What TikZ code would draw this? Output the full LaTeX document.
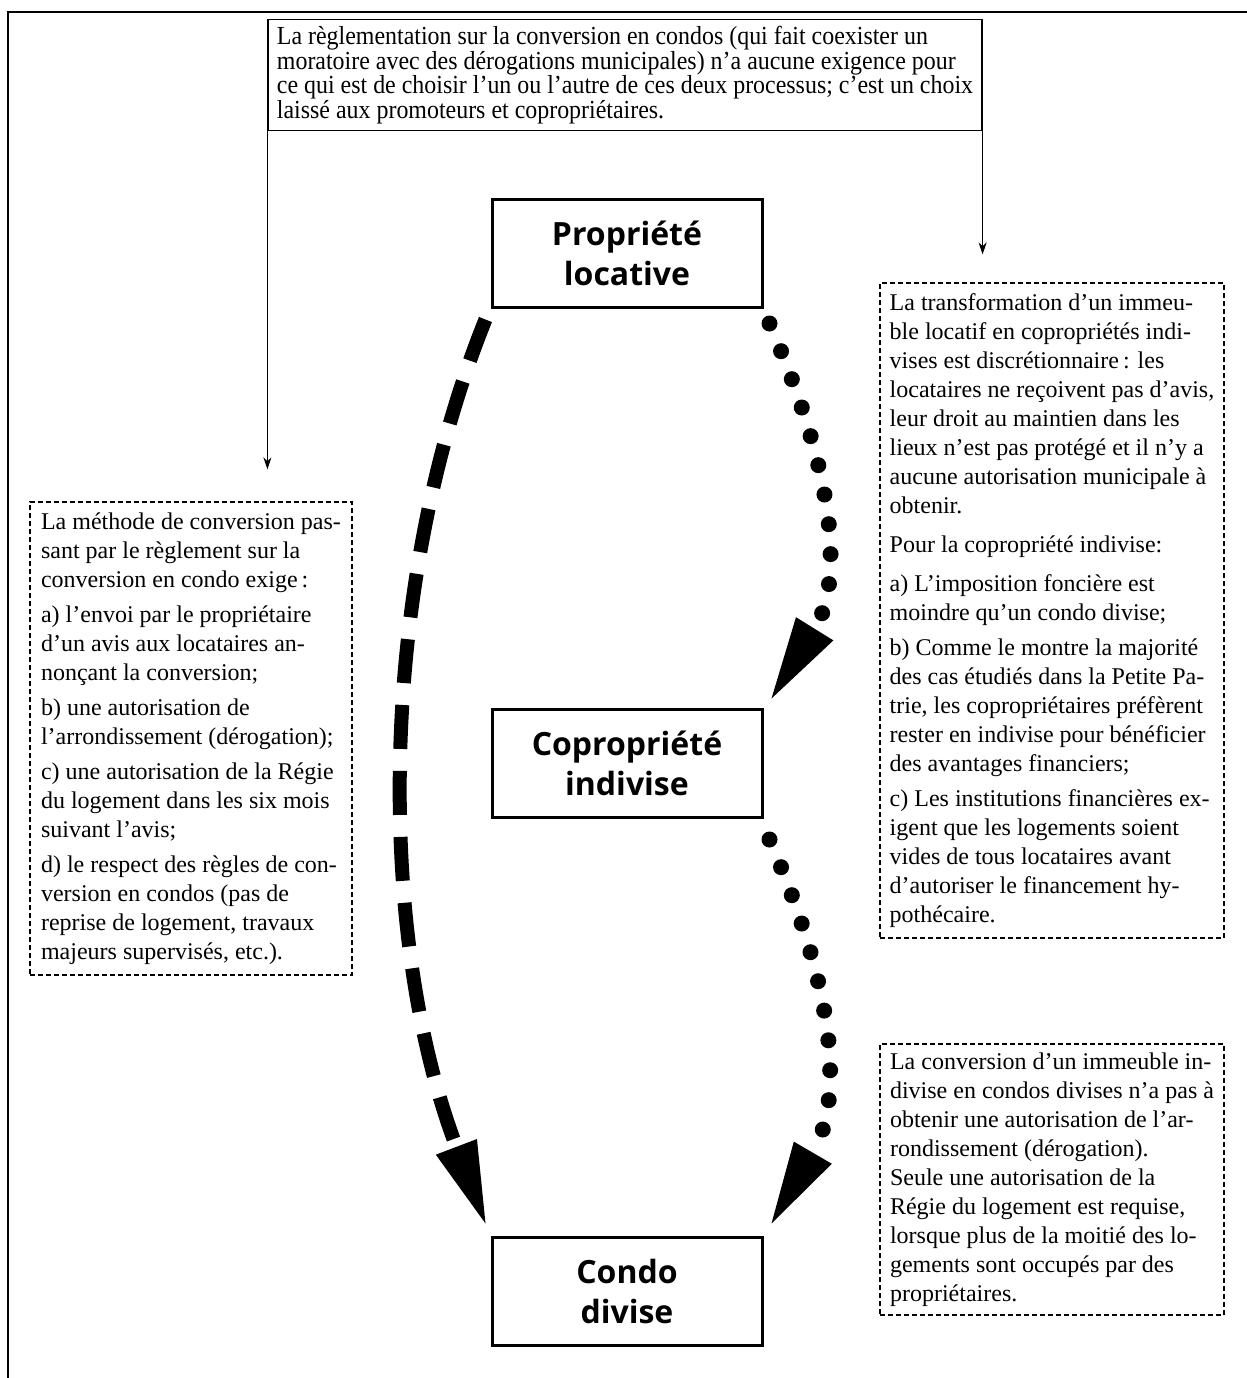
\documentclass[tikz,border=0pt]{standalone}
\usepackage{fontspec}
\setmainfont{Liberation Serif}
\newfontfamily\headfont{Open Sans}
\newfontfamily\narrowfont[FakeStretch=0.92]{Liberation Serif}
\usetikzlibrary{arrows.meta,calc}

\begin{document}
\begin{tikzpicture}[
  x=0.5pt,y=-0.5pt,
  stage/.style={draw,line width=1.5pt,minimum width=135pt,minimum height=54pt,align=center,
    font=\headfont\bfseries\fontsize{16}{20}\selectfont},
  note/.style={draw,line width=0.6pt,dash pattern=on 2.5pt off 1.5pt,align=left,inner xsep=3pt,
    font=\fontsize{12}{14.5}\selectfont},
  rulebox/.style={draw,line width=0.6pt,align=left,inner xsep=3pt,minimum width=357pt,minimum height=55pt,
    font=\narrowfont\fontsize{13}{12.25}\selectfont},
  pointer/.style={-{Stealth[length=6pt,width=4pt]},line width=0.5pt},
  bigtip/.style={-{Triangle[length=41pt,width=22pt,line width=0pt]}},
  strokes/.style={bigtip,line width=7pt,dash pattern=on 22pt off 11pt},
  dotpath/.style={bigtip,line width=8pt,line cap=round,dash pattern=on 0pt off 15pt}
]
\useasboundingbox (0,0) rectangle (1247,1378);
% frame
\draw[line width=1.2pt] (8,1378) -- (8,12) -- (1247,12);

% top text
\node[rulebox] (rule) at (625,75) {La règlementation sur la conversion en condos (qui fait coexister un\\
moratoire avec des dérogations municipales) n’a aucune exigence pour\\
ce qui est de choisir l’un ou l’autre de ces deux processus; c’est un choix\\
laissé aux promoteurs et copropriétaires.};

% stages
\node[stage] (prop) at (627,253) {Propriété\\locative};
\node[stage] (copro) at (627,763) {Copropriété\\indivise};
\node[stage] (condo) at (627,1291) {Condo\\divise};

% notes
\node[note,minimum width=161pt,minimum height=236.5pt] (methode) at (191,738.5) {La méthode de conversion pas-\\
sant par le règlement sur la\\
conversion en condo exige\,:\\[3pt]
a) l’envoi par le propriétaire\\
d’un avis aux locataires an-\\
nonçant la conversion;\\[3pt]
b) une autorisation de\\
l’arrondissement (dérogation);\\[3pt]
c) une autorisation de la Régie\\
du logement dans les six mois\\
suivant l’avis;\\[3pt]
d) le respect des règles de con-\\
version en condos (pas de\\
reprise de logement, travaux\\
majeurs supervisés, etc.).};

\node[note,minimum width=172pt,minimum height=327.5pt] (indivise) at (1052,610.5) {La transformation d’un immeu-\\
ble locatif en copropriétés indi-\\
vises est discrétionnaire\,: les\\
locataires ne reçoivent pas d’avis,\\
leur droit au maintien dans les\\
lieux n’est pas protégé et il n’y a\\
aucune autorisation municipale à\\
obtenir.\\[5pt]
Pour la copropriété indivise:\\[5pt]
a) L’imposition foncière est\\
moindre qu’un condo divise;\\[3pt]
b) Comme le montre la majorité\\
des cas étudiés dans la Petite Pa-\\
trie, les copropriétaires préfèrent\\
rester en indivise pour bénéficier\\
des avantages financiers;\\[3pt]
c) Les institutions financières ex-\\
igent que les logements soient\\
vides de tous locataires avant\\
d’autoriser le financement hy-\\
pothécaire.};

\node[note,minimum width=172pt,minimum height=135.5pt] (divise) at (1052,1179.5) {La conversion d’un immeuble in-\\
divise en condos divises n’a pas à\\
obtenir une autorisation de l’ar-\\
rondissement (dérogation).\\
Seule une autorisation de la\\
Régie du logement est requise,\\
lorsque plus de la moitié des lo-\\
gements sont occupés par des\\
propriétaires.};

% pointers from the top text
\draw[pointer,shorten >=16pt] (rule.south west) -- (rule.south west |- methode.north);
\draw[pointer,shorten >=14pt] (rule.south east) -- (rule.south east |- indivise.north);

% paths between stages
\coordinate (a1) at ($(prop.south west)+(-5,11)$);
\coordinate (a2) at ($(condo.north west)+(-5,-12)$);
\coordinate (b1) at ($(prop.south east)+(6,15)$);
\coordinate (b2) at ($(copro.north east)+(8,-9)$);
\coordinate (c1) at ($(copro.south east)+(6,21)$);
\coordinate (c2) at ($(condo.north east)+(8,-12)$);
\draw[strokes] (a1) .. controls ($(a1)+(-109,270)$) and ($(a2)+(-109,-287)$) .. (a2);
\draw[dotpath] (b1) .. controls ($(b1)+(70,162)$) and ($(b2)+(70,-113)$) .. (b2);
\draw[dotpath] (c1) .. controls ($(c1)+(70,162)$) and ($(c2)+(70,-120)$) .. (c2);
\end{tikzpicture}
\end{document}
